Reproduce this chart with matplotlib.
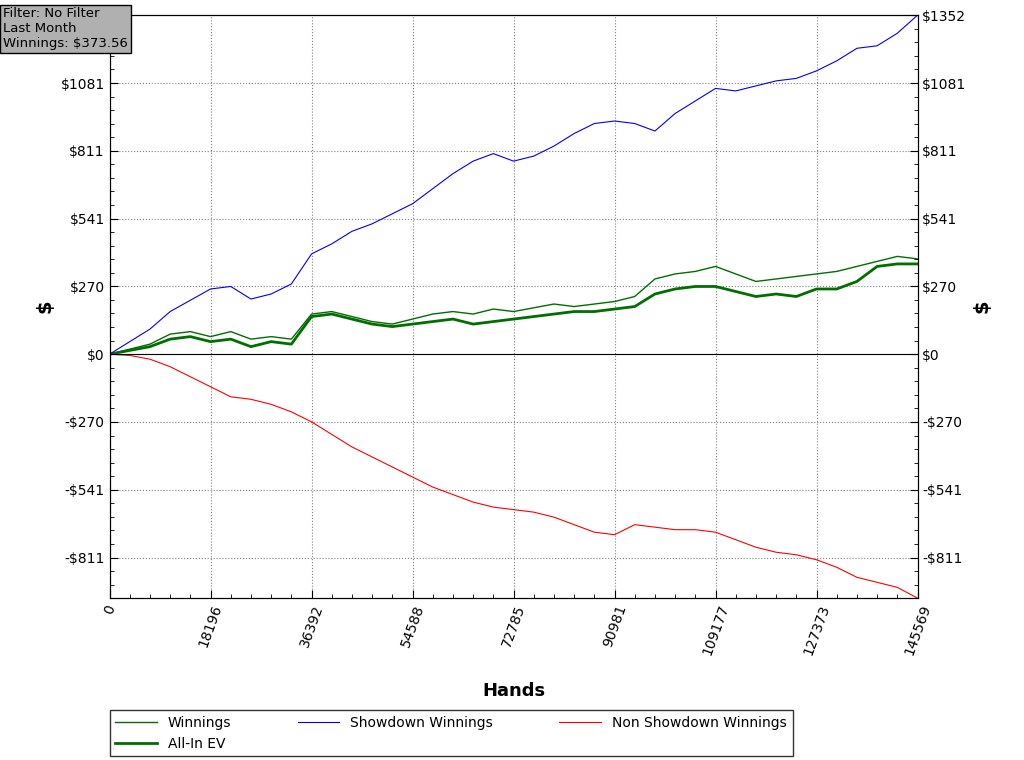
import matplotlib
matplotlib.use("Agg")
import matplotlib.pyplot as plt
from matplotlib.ticker import MultipleLocator, FixedLocator

total_hands = 145569
hands = [round(total_hands * k / 40) for k in range(41)]

showdown = [0, 50, 100, 170, 215, 260, 270, 220, 240, 280, 400, 440, 490, 520, 560, 600, 660, 720, 770, 800,
            770, 790, 830, 880, 920, 930, 920, 890, 960, 1010, 1060, 1050, 1070, 1090, 1100, 1130, 1170, 1220,
            1230, 1280, 1352]
non_showdown = [0, -5, -20, -50, -90, -130, -170, -180, -200, -230, -270, -320, -370, -410, -450, -490, -530,
                -560, -590, -610, -620, -630, -650, -680, -710, -720, -680, -690, -700, -700, -710, -740, -770,
                -790, -800, -820, -850, -890, -910, -930, -973]
winnings = [0, 20, 40, 80, 90, 70, 90, 60, 70, 60, 160, 170, 150, 130, 120, 140, 160, 170, 160, 180, 170, 185,
            200, 190, 200, 210, 230, 300, 320, 330, 350, 320, 290, 300, 310, 320, 330, 350, 370, 390, 380]
allin_ev = [0, 15, 30, 60, 70, 50, 60, 30, 50, 40, 150, 160, 140, 120, 110, 120, 130, 140, 120, 130, 140, 150,
            160, 170, 170, 180, 190, 240, 260, 270, 270, 250, 230, 240, 230, 260, 260, 290, 350, 360, 360]

y_ticks = [-811, -541, -270, 0, 270, 541, 811, 1081, 1352]
y_labels = ["-$811", "-$541", "-$270", "$0", "$270", "$541", "$811", "$1081", "$1352"]
x_ticks = [0, 18196, 36392, 54588, 72785, 90981, 109177, 127373, 145569]

fig = plt.figure(figsize=(10.24, 7.6), dpi=100)
ax = fig.add_axes([0.107, 0.213, 0.789, 0.767])

ax.plot(hands, winnings, color="#006f00", lw=1.0, label="Winnings")
ax.plot(hands, allin_ev, color="#006f00", lw=2.0, label="All-In EV")
ax.plot(hands, showdown, color="#0000ff", lw=0.8, label="Showdown Winnings")
ax.plot(hands, non_showdown, color="#ff0000", lw=0.8, label="Non Showdown Winnings")
ax.axhline(0, color="black", lw=0.8)

ax.set_xlim(0, total_hands)
ax.set_ylim(-973, 1352)
ax.yaxis.set_major_locator(FixedLocator(y_ticks))
# the filter box covers the top left label
ax.set_yticklabels(y_labels[:-1] + [""])
ax.yaxis.set_minor_locator(MultipleLocator(54.08))
ax.xaxis.set_major_locator(FixedLocator(x_ticks))
ax.set_xticklabels([str(v) for v in x_ticks], rotation=70)
ax.xaxis.set_minor_locator(MultipleLocator(18196.1 / 5))
ax.tick_params(direction="in", which="both", labelsize=10)
ax.tick_params(which="major", length=6)
ax.tick_params(which="minor", length=3)
ax.grid(True, which="major", linestyle=":", color="gray", lw=0.8)

ax2 = ax.twinx()
ax2.set_ylim(ax.get_ylim())
ax2.yaxis.set_major_locator(FixedLocator(y_ticks))
ax2.set_yticklabels(y_labels)
ax2.yaxis.set_minor_locator(MultipleLocator(54.08))
ax2.tick_params(direction="in", which="both", labelsize=10)
ax2.tick_params(which="major", length=6)
ax2.tick_params(which="minor", length=3)

ax.set_xlabel("Hands", fontsize=13, fontweight="bold", labelpad=18)
ax.set_ylabel("$", fontsize=14, fontweight="bold")
ax2.set_ylabel("$", fontsize=14, fontweight="bold", rotation=90)

fig.legend(*ax.get_legend_handles_labels(), loc="lower left", bbox_to_anchor=(0.107, 0.005, 0.667, 0.06),
           mode="expand", ncol=3, fontsize=10, frameon=True, fancybox=False, edgecolor="black",
           borderaxespad=0, handlelength=3)

fig.text(0.003, 0.934, "Filter: No Filter\nLast Month\nWinnings: $373.56", fontsize=9.5, va="bottom",
         bbox=dict(boxstyle="square,pad=0.2", facecolor="#b0b0b0", edgecolor="black"))

fig.savefig("out.png", dpi=100)
